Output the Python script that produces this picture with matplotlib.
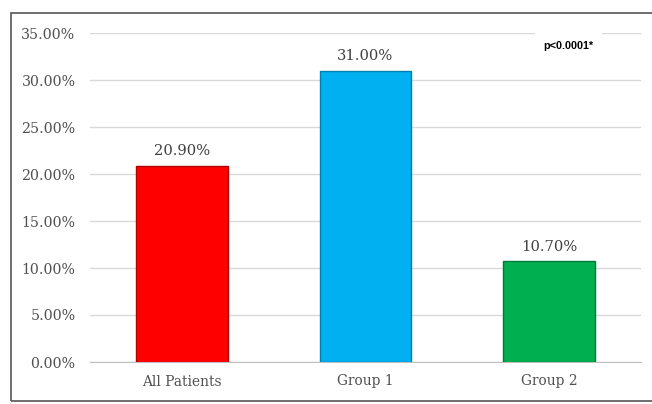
import matplotlib.pyplot as plt
from matplotlib.patches import Rectangle
from matplotlib.ticker import FuncFormatter

# data
categories = ["All Patients", "Group 1", "Group 2"]
values = [20.90, 31.00, 10.70]
colors = ["#FF0000", "#00B0F0", "#00B050"]
edges = ["#B00000", "#0080B0", "#007A38"]
yticks = [0, 5, 10, 15, 20, 25, 30, 35]
pval = "p<0.0001*"

fig = plt.figure(figsize=(6.52, 4.04), dpi=100)
ax = fig.add_axes([90/652, 1-362/404, 551/652, 329/404])

# outer frame
fig.patches.append(Rectangle((11/652, 3/404), 1.0, 1-16/404, transform=fig.transFigure,
                             fill=False, edgecolor="#555555", linewidth=1.2))

x = range(len(categories))
bars = ax.bar(x, values, width=0.5, color=colors, edgecolor=edges, linewidth=1.0, zorder=3)

for b, v in zip(bars, values):
    ax.text(b.get_x() + b.get_width()/2, v + 0.8, "%.2f%%" % v, ha="center", va="bottom",
            family="DejaVu Serif", fontsize=10.6, color="#404040")

ax.set_xlim(-0.5, 2.5)
ax.set_ylim(0, 35)
ax.set_yticks(yticks)
ax.yaxis.set_major_formatter(FuncFormatter(lambda v, p: "%.2f%%" % v))
ax.set_xticks(list(x))
ax.set_xticklabels(categories)
for lab in ax.get_yticklabels():
    lab.set_family("DejaVu Serif")
    lab.set_fontsize(10.2)
    lab.set_color("#505050")
for lab in ax.get_xticklabels():
    lab.set_family("DejaVu Serif")
    lab.set_fontsize(9.9)
    lab.set_color("#505050")
ax.tick_params(axis="y", length=0, pad=10.5)
ax.tick_params(axis="x", length=0, pad=9)
ax.grid(axis="y", color="#D9D9D9", linewidth=1.0, zorder=0)
for s in ["top", "right", "left"]:
    ax.spines[s].set_visible(False)
ax.spines["bottom"].set_color("#BFBFBF")

ax.text(1.97, 33.6, pval, ha="left", va="center", fontsize=7.8, fontweight="bold",
        family="Liberation Sans", color="black", zorder=5,
        bbox=dict(facecolor="white", edgecolor="none", pad=6))

fig.savefig("out.png", dpi=100)
